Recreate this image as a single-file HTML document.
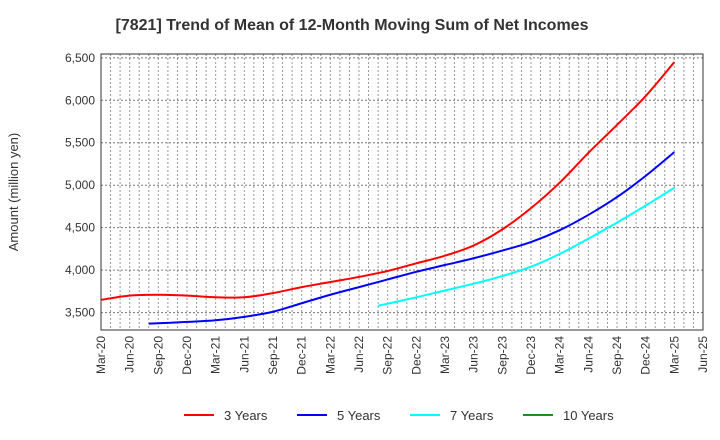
<!DOCTYPE html>
<html><head><meta charset="utf-8"><style>
body{margin:0;background:#fff;}
svg{display:block;font-family:"Liberation Sans",Arial,sans-serif;}
</style></head><body>
<svg id="chart" width="720" height="440" xmlns="http://www.w3.org/2000/svg">
<text x="352" y="30" text-anchor="middle" font-size="16" font-weight="bold" fill="#333">[7821]  Trend of Mean of 12-Month Moving Sum of Net Incomes</text>
<text transform="translate(18,192) rotate(-90)" text-anchor="middle" font-size="13" fill="#333">Amount (million yen)</text>
<g id="grid"></g><g id="axes"></g><g id="series"></g><g id="legend"></g>
</svg>
<script>
const categories=["Mar-20","Jun-20","Sep-20","Dec-20","Mar-21","Jun-21","Sep-21","Dec-21","Mar-22","Jun-22","Sep-22","Dec-22","Mar-23","Jun-23","Sep-23","Dec-23","Mar-24","Jun-24","Sep-24","Dec-24","Mar-25","Jun-25"];
const yTicks=[3500,4000,4500,5000,5500,6000,6500];
// month index (0 = Mar-20) of each data point
const m3=[0,3,6,9,12,15,18,21,24,27,30,33,36,39,42,45,48,51,54,57,60];
const y3=[3650,3700,3710,3700,3680,3680,3730,3800,3860,3920,3990,4080,4170,4290,4480,4730,5030,5380,5710,6050,6450];
const m5=[5,9,12,15,18,21,24,27,30,33,36,39,42,45,48,51,54,57,60];
const y5=[3370,3390,3410,3450,3510,3610,3710,3800,3890,3980,4060,4140,4230,4330,4470,4650,4860,5110,5390];
const m7=[29,33,36,39,42,45,48,51,54,57,60];
const y7=[3580,3680,3760,3840,3930,4040,4190,4370,4560,4760,4970];
const m10=[];
const y10=[];
const L=101,R=703,T=54,B=330;
const yMin=3295,yMax=6545;
const ns="http://www.w3.org/2000/svg";
const nMonths=(categories.length-1)*3;
function XM(m){return L+(R-L)*m/nMonths;}
function X(i){return XM(i*3);}
function Y(v){return B-(B-T)*(v-yMin)/(yMax-yMin);}
function mk(tag,attrs,parent){const e=document.createElementNS(ns,tag);for(const k in attrs)e.setAttribute(k,attrs[k]);parent.appendChild(e);return e;}
const grid=document.getElementById('grid'),axes=document.getElementById('axes'),ser=document.getElementById('series'),leg=document.getElementById('legend');
for(let m=1;m<nMonths;m++){const x=XM(m);
const g=mk('line',{x1:x,x2:x,y1:T,y2:B,stroke:'#999','stroke-dasharray':'2,2','stroke-width':1},grid);

}
yTicks.forEach(v=>{const y=Y(v);
const g=mk('line',{x1:L,x2:R,y1:y,y2:y,stroke:'#777','stroke-dasharray':'2,2','stroke-width':1},grid);


const t=mk('text',{x:L-6,y:y+4,'text-anchor':'end','font-size':12,fill:'#333'},axes);t.textContent=v.toLocaleString('en-US');

});
categories.forEach((c,i)=>{const x=X(i);
const t=mk('text',{transform:`translate(${x+4},${B+6}) rotate(-90)`,'text-anchor':'end','font-size':12,fill:'#333'},axes);t.textContent=c;

});
const fr=mk('rect',{x:L,y:T,width:R-L,height:B-T,fill:'none',stroke:'#333','stroke-width':1},axes);


function path(ms,vals,color,name){const pts=[];vals.forEach((v,i)=>{if(v!=null)pts.push([XM(ms[i]),Y(v)]);});if(pts.length<2)return;
let d=`M${pts[0][0]},${pts[0][1]}`;
for(let i=0;i<pts.length-1;i++){const p0=pts[i-1]||pts[i],p1=pts[i],p2=pts[i+1],p3=pts[i+2]||p2;
d+=` C${p1[0]+(p2[0]-p0[0])/6},${p1[1]+(p2[1]-p0[1])/6} ${p2[0]-(p3[0]-p1[0])/6},${p2[1]-(p3[1]-p1[1])/6} ${p2[0]},${p2[1]}`;}
const p=mk('path',{d:d,fill:'none',stroke:color,'stroke-width':2},ser);

}
path(m3,y3,'#ff0000','line-3-years');
path(m5,y5,'#0000ff','line-5-years');
path(m7,y7,'#00ffff','line-7-years');
path(m10,y10,'#228b22','line-10-years');
[['3 Years','#ff0000',184],['5 Years','#0000ff',297],['7 Years','#00ffff',410],['10 Years','#228b22',523]].forEach(([lab,col,x])=>{
const g=mk('g',{},leg);


mk('line',{x1:x,x2:x+30,y1:415,y2:415,stroke:col,'stroke-width':2},g);
const t=mk('text',{x:x+40,y:420,'font-size':13,fill:'#333'},g);t.textContent=lab;});
</script>
</body></html>
